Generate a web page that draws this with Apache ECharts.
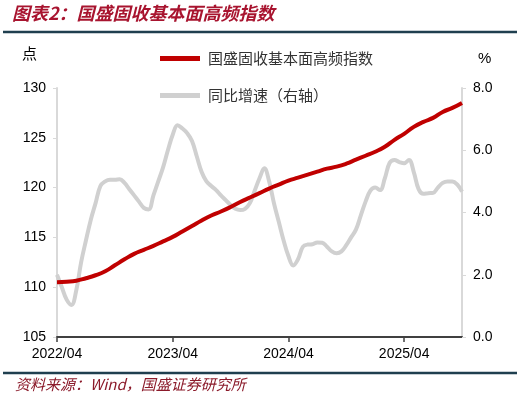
<!DOCTYPE html>
<html style="height: 100%">
<head>
<meta charset="utf-8">
<title>国盛固收基本面高频指数</title>
<script src="https://cdn.jsdelivr.net/npm/echarts@6/dist/echarts.min.js"></script>
</head>
<body style="height: 100%; margin: 0; background: #fff">
<div id="container" style="width: 519px; height: 399px"></div>
<script type="text/javascript">
// x axis: months counted from 2022/04
var tickLabels = ['2022/04', '2023/04', '2024/04', '2025/04'];
var seriesNames = ['国盛固收基本面高频指数', '同比增速（右轴）'];

// index level, one value per month, 2022/04 .. 2025/10
var indexLevel = [
    110.5, 110.55, 110.65, 110.9, 111.2, 111.6, 112.2, 112.8, 113.35, 113.75,
    114.15, 114.6, 115.05, 115.6, 116.15, 116.7, 117.2, 117.6, 118.05, 118.55,
    119.0, 119.45, 119.9, 120.3, 120.7, 121.0, 121.3, 121.6, 121.9, 122.1,
    122.4, 122.8, 123.2, 123.6, 124.1, 124.8, 125.4, 126.1, 126.6, 127.0,
    127.6, 128.0, 128.5
];

// yoy growth (%), two values per month, 2022/04 .. 2025/10
var yoyGrowth = [
    2.0, 1.6, 1.2, 1.03, 1.5, 2.4, 3.1, 3.76, 4.3, 4.85,
    5.0, 5.05, 5.05, 5.07, 4.95, 4.75, 4.55, 4.35, 4.15, 4.1,
    4.55, 5.0, 5.45, 6.0, 6.5, 6.8, 6.7, 6.55, 6.3, 5.8,
    5.3, 5.0, 4.85, 4.72, 4.55, 4.4, 4.24, 4.12, 4.08, 4.12,
    4.3, 4.7, 5.1, 5.42, 5.0, 4.3, 3.7, 3.1, 2.6, 2.3,
    2.5, 2.9, 2.97, 2.98, 3.04, 3.03, 2.9, 2.75, 2.69, 2.75,
    2.95, 3.2, 3.45, 3.9, 4.35, 4.7, 4.8, 4.72, 5.1, 5.6,
    5.69, 5.62, 5.58, 5.69, 5.3, 4.75, 4.6, 4.62, 4.63, 4.8,
    4.95, 5.0, 5.0, 4.9, 4.67
];

var dom = document.getElementById('container');
var myChart = echarts.init(dom);

var levelData = indexLevel.map(function (v, i) { return [i, v]; });
var yoyData = yoyGrowth.map(function (v, i) { return [i / 2, v]; });

var labelFont = {color: '#000', fontSize: 14, fontFamily: 'Liberation Sans'};

var option = {
    backgroundColor: '#fff',
    animation: false,
    grid: {left: 57, right: 57, top: 88, bottom: 62},
    legend: {
        orient: 'vertical',
        left: 155,
        top: 46,
        itemGap: 22,
        itemWidth: 40,
        itemHeight: 5,
        icon: 'rect',
        data: seriesNames,
        textStyle: {color: '#333', fontSize: 15, fontFamily: 'Noto Sans CJK SC', padding: [0, 0, 0, 3]}
    },
    graphic: [
        {type: 'text', left: 12, top: 4,
            style: {text: '图表2：国盛固收基本面高频指数', fill: '#a8142f', fontSize: 18,
                fontWeight: 'bold', fontStyle: 'italic', fontFamily: 'Noto Sans CJK SC'}},
        {type: 'line', shape: {x1: 3, y1: 32, x2: 517, y2: 32},
            style: {stroke: '#1f3f4f', lineWidth: 2.5}},
        {type: 'text', left: 22, top: 46,
            style: {text: '点', fill: '#000', fontSize: 15, fontFamily: 'Noto Sans CJK SC'}},
        {type: 'text', left: 478, top: 51,
            style: {text: '%', fill: '#000', fontSize: 15, fontFamily: 'Liberation Sans'}},
        {type: 'line', shape: {x1: 3, y1: 373, x2: 517, y2: 373},
            style: {stroke: '#1f3f4f', lineWidth: 2.5}},
        {type: 'text', left: 15, top: 377,
            style: {text: '资料来源：Wind，国盛证券研究所', fill: '#8b1a2a', fontSize: 15,
                fontStyle: 'italic', fontFamily: 'Noto Sans CJK SC'}}
    ],
    xAxis: {
        type: 'value',
        min: 0,
        max: 42,
        interval: 12,
        splitLine: {show: false},
        axisLine: {lineStyle: {color: '#404040', width: 2}},
        axisTick: {length: 5, lineStyle: {color: '#404040', width: 1.5}},
        axisLabel: Object.assign({
            margin: 10,
            showMaxLabel: false,
            formatter: function (v) { return tickLabels[v / 12] || ''; }
        }, labelFont)
    },
    yAxis: [
        {
            type: 'value',
            min: 105,
            max: 130,
            interval: 5,
            splitLine: {show: false},
            axisLine: {show: true, lineStyle: {color: '#d9d9d9', width: 2}},
            axisTick: {show: true, length: 4, lineStyle: {color: '#d9d9d9'}},
            axisLabel: Object.assign({margin: 11}, labelFont)
        },
        {
            type: 'value',
            min: 0,
            max: 8,
            interval: 2,
            position: 'right',
            splitLine: {show: false},
            axisLine: {show: true, lineStyle: {color: '#d9d9d9', width: 2}},
            axisTick: {show: true, length: 4, lineStyle: {color: '#d9d9d9'}},
            axisLabel: Object.assign({
                margin: 11,
                formatter: function (v) { return v.toFixed(1); }
            }, labelFont)
        }
    ],
    series: [
        {
            name: seriesNames[1],
            type: 'line',
            yAxisIndex: 1,
            data: yoyData,
            smooth: 0.4,
            showSymbol: false,
            color: '#d0d0d0',
            lineStyle: {width: 4, color: '#d0d0d0'}
        },
        {
            name: seriesNames[0],
            type: 'line',
            yAxisIndex: 0,
            data: levelData,
            smooth: true,
            showSymbol: false,
            color: '#c00000',
            lineStyle: {width: 4, color: '#c00000'}
        }
    ]
};
myChart.setOption(option, true);
</script>
</body>
</html>
